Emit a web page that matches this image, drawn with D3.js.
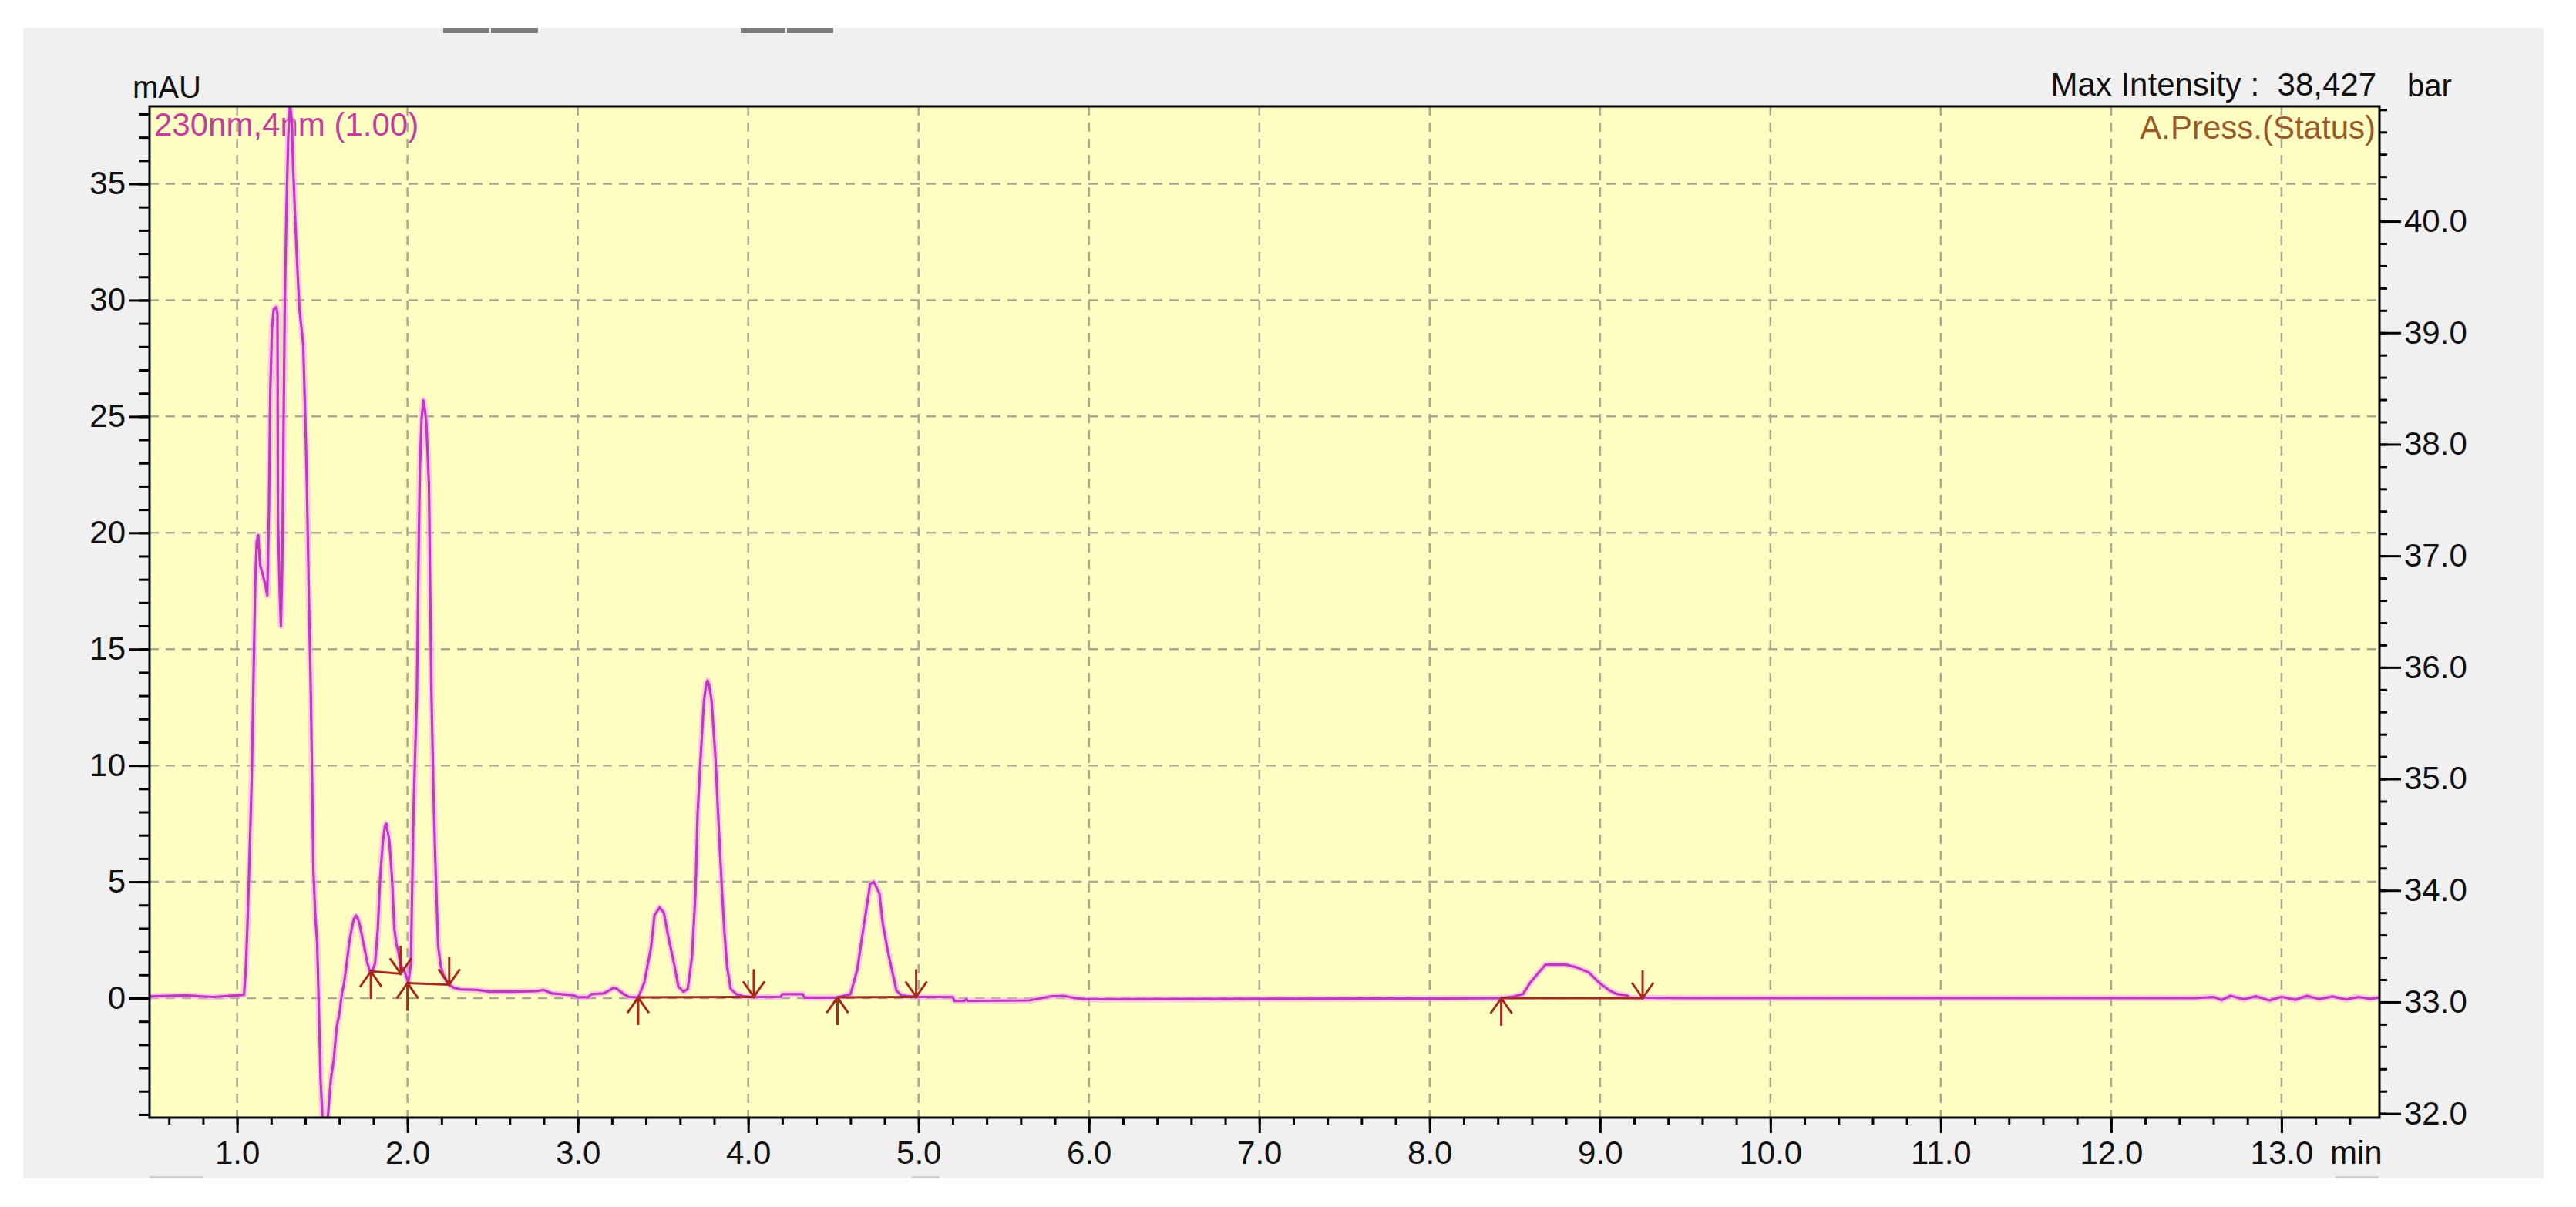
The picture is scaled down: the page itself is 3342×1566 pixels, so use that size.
<!DOCTYPE html>
<html>
<head>
<meta charset="utf-8">
<script src="https://cdn.jsdelivr.net/npm/d3@7"></script>
<style>
  body { margin: 0; background: #ffffff; }
  svg { display: block; }
  text { font-family: "Liberation Sans", Arial, sans-serif; }
</style>
</head>
<body>
<div id="chart"></div>
<script>
// retention time (min) and absorbance (mAU)
const rt = [0.486, 0.60, 0.70, 0.78, 0.86, 0.95, 1.00, 1.04, 1.05, 1.06, 1.071, 1.086, 1.106, 1.115, 1.124, 1.135,
  1.147, 1.165, 1.177, 1.187, 1.195, 1.205, 1.215, 1.23, 1.237, 1.24, 1.25, 1.257, 1.265, 1.272, 1.28, 1.29,
  1.30, 1.31, 1.32, 1.33, 1.343, 1.355, 1.366, 1.388, 1.40, 1.41, 1.422, 1.433, 1.448, 1.46, 1.47, 1.48,
  1.49, 1.50, 1.51, 1.525, 1.535, 1.55, 1.568, 1.585, 1.60, 1.615, 1.627, 1.64, 1.655, 1.67, 1.685, 1.698,
  1.71, 1.72, 1.735, 1.75, 1.765, 1.78, 1.795, 1.81, 1.826, 1.84, 1.855, 1.868, 1.875, 1.885, 1.893, 1.908,
  1.923, 1.935, 1.945, 1.96, 1.98, 1.995, 2.005, 2.02, 2.035, 2.045, 2.055, 2.065, 2.073, 2.083, 2.093, 2.10,
  2.11, 2.126, 2.14, 2.152, 2.163, 2.18, 2.195, 2.21, 2.23, 2.25, 2.27, 2.31, 2.41, 2.48, 2.62, 2.76,
  2.80, 2.85, 2.97, 3.00, 3.06, 3.08, 3.15, 3.19, 3.21, 3.23, 3.27, 3.30, 3.355, 3.39, 3.43, 3.45,
  3.48, 3.505, 3.53, 3.566, 3.59, 3.62, 3.645, 3.67, 3.69, 3.703, 3.718, 3.74, 3.755, 3.762, 3.772, 3.785,
  3.808, 3.83, 3.85, 3.86, 3.875, 3.897, 3.93, 3.97, 4.033, 4.19, 4.20, 4.32, 4.33, 4.52, 4.60, 4.64,
  4.66, 4.69, 4.716, 4.737, 4.77, 4.79, 4.82, 4.85, 4.87, 4.90, 4.99, 5.20, 5.21, 5.27, 5.28, 5.29,
  5.65, 5.72, 5.78, 5.85, 5.92, 6.00, 7.00, 8.00, 8.42, 8.487, 8.547, 8.59, 8.64, 8.68, 8.80, 8.86,
  8.935, 8.995, 9.055, 9.10, 9.16, 9.175, 9.50, 10.5, 11.5, 12.5, 12.6, 12.65, 12.7, 12.78, 12.85, 12.93,
  13.0, 13.08, 13.15, 13.22, 13.3, 13.38, 13.45, 13.52, 13.575]
const mAU = [0.08, 0.10, 0.12, 0.08, 0.05, 0.10, 0.12, 0.14, 1.1, 3.0, 5.6, 9.5, 17.7, 19.6, 19.9, 18.6,
  18.3, 17.8, 17.3, 21.0, 26.2, 28.8, 29.6, 29.7, 29.4, 20.6, 17.5, 16.0, 18.5, 24.0, 30.0, 34.0,
  37.0, 38.43, 37.8, 35.5, 33.1, 31.2, 29.6, 28.1, 25.0, 21.9, 17.0, 13.0, 5.45, 3.4, 2.36, -0.5,
  -3.5, -5.0, -5.8, -5.6, -4.9, -3.5, -2.6, -1.2, -0.7, 0.2, 0.6, 1.3, 2.2, 2.9, 3.4, 3.55,
  3.4, 3.15, 2.6, 2.06, 1.5, 1.15, 1.2, 1.5, 3.0, 5.2, 6.7, 7.4, 7.5, 7.1, 6.8, 5.3,
  3.0, 2.3, 2.06, 1.4, 1.2, 0.9, 0.65, 1.5, 7.9, 10.5, 12.9, 19.0, 22.8, 24.9, 25.7, 25.4,
  24.8, 22.1, 13.4, 9.0, 6.0, 2.25, 1.4, 1.0, 0.7, 0.55, 0.45, 0.38, 0.35, 0.28, 0.28, 0.30,
  0.35, 0.20, 0.13, 0.04, 0.04, 0.17, 0.20, 0.35, 0.45, 0.40, 0.17, 0.05, 0.03, 0.67, 2.2, 3.56,
  3.9, 3.67, 2.67, 1.44, 0.5, 0.28, 0.39, 1.78, 4.44, 7.95, 10.0, 12.76, 13.55, 13.65, 13.4, 12.8,
  10.3, 6.9, 4.1, 2.9, 1.4, 0.4, 0.17, 0.08, 0.05, 0.05, 0.17, 0.17, 0.02, 0.02, 0.17, 1.22,
  2.22, 3.67, 4.9, 5.0, 4.5, 3.2, 2.0, 1.0, 0.33, 0.11, 0.05, 0.05, -0.12, -0.12, -0.05, -0.12,
  -0.10, 0.0, 0.08, 0.10, 0.0, -0.05, -0.03, -0.02, 0.0, 0.06, 0.17, 0.66, 1.1, 1.44, 1.44, 1.33,
  1.1, 0.66, 0.33, 0.17, 0.11, 0.02, 0.0, 0.0, 0.0, 0.0, 0.05, -0.08, 0.10, -0.05, 0.08, -0.10,
  0.06, -0.07, 0.10, -0.04, 0.07, -0.06, 0.05, -0.03, 0.02]

// integration marks: peak start (up arrow) and peak end (down arrow)
const peakStartRT = [1.785, 2.0, 3.354, 4.524, 8.42]
const peakStartLevel = [1.15, 0.65, 0.03, 0.03, 0.0]
const peakEndRT = [1.96, 2.245, 4.033, 4.986, 9.25]
const peakEndLevel = [1.05, 0.58, 0.05, 0.05, 0.0]

// ticks
const timeMajor = [1, 2, 3, 4, 5, 6, 7, 8, 9, 10, 11, 12, 13]
const timeMinor = d3.range(0.6, 13.5, 0.2)
const mAUMajor = [0, 5, 10, 15, 20, 25, 30, 35]
const mAUMinor = d3.range(-5, 39, 1)
const barMajor = [32, 33, 34, 35, 36, 37, 38, 39, 40]
const barMinor = d3.range(32, 41.01, 0.2)

const W = 3342, H = 1566
const plotL = 194, plotR = 3087, plotT = 138, plotB = 1450

let svg = d3.select('#chart').append('svg')
    .attr('width', W)
    .attr('height', H)

let x = d3.scaleLinear().domain([0.486, 13.575]).range([plotL, plotR])
let y = d3.scaleLinear().domain([-5.135, 38.33]).range([plotB, plotT])
let yBar = d3.scaleLinear().domain([31.963, 41.03]).range([plotB, plotT])

// window panel
svg.append('rect')
    .attr('x', 30).attr('y', 36)
    .attr('width', 3270).attr('height', 1493)
    .attr('fill', '#f0f0f0')

// little bars along the top edge
;[[575, 60], [637, 61], [961, 58], [1021, 60]].forEach(b => {
    svg.append('rect')
        .attr('x', b[0]).attr('y', 36)
        .attr('width', b[1]).attr('height', 7)
        .attr('fill', '#7c7c7c')
})
;[[194, 70], [1183, 36], [3030, 56]].forEach(b => {
    svg.append('rect')
        .attr('x', b[0]).attr('y', 1526)
        .attr('width', b[1]).attr('height', 3)
        .attr('fill', '#cfcfcf')
})

// plot background
svg.append('rect')
    .attr('x', plotL).attr('y', plotT)
    .attr('width', plotR - plotL).attr('height', plotB - plotT)
    .attr('fill', '#fffec2')

// grid
let grid = svg.append('g')
    .attr('stroke', '#a8a893')
    .attr('stroke-width', 2.5)
    .attr('stroke-dasharray', '12,9')
grid.selectAll('.vgrid').data(timeMajor).enter().append('line')
    .attr('x1', d => x(d)).attr('x2', d => x(d))
    .attr('y1', plotT).attr('y2', plotB)
grid.selectAll('.hgrid').data(mAUMajor).enter().append('line')
    .attr('x1', plotL).attr('x2', plotR)
    .attr('y1', d => y(d)).attr('y2', d => y(d))

// channel labels
svg.append('text')
    .attr('x', 200).attr('y', 176)
    .text('230nm,4nm (1.00)')
    .style('font-size', '42px')
    .attr('fill', '#c0409c')

svg.append('text')
    .attr('x', 3082).attr('y', 180)
    .text('A.Press.(Status)')
    .style('font-size', '42px')
    .style('text-anchor', 'end')
    .attr('fill', '#9a5a2a')

// clip
svg.append('clipPath').attr('id', 'plotClip')
    .append('rect')
    .attr('x', plotL).attr('y', plotT)
    .attr('width', plotR - plotL).attr('height', plotB - plotT)

let trace = rt.map((t, i) => [t, mAU[i]])
let line = d3.line().x(d => x(d[0])).y(d => y(d[1]))

svg.append('path')
    .datum(trace)
    .attr('clip-path', 'url(#plotClip)')
    .attr('d', line)
    .attr('fill', 'none')
    .attr('stroke', '#f5a3f2')
    .attr('stroke-width', 8)
    .attr('stroke-linejoin', 'round')
    .attr('opacity', 0.55)

svg.append('path')
    .datum(trace)
    .attr('clip-path', 'url(#plotClip)')
    .attr('d', line)
    .attr('fill', 'none')
    .attr('stroke', '#c238c4')
    .attr('stroke-width', 3.2)
    .attr('stroke-linejoin', 'round')

// integration baselines and arrows
let marks = svg.append('g')
    .attr('stroke', '#a32a1c')
    .attr('stroke-width', 3)
    .attr('fill', 'none')

peakStartRT.forEach((t, i) => {
    marks.append('line')
        .attr('x1', x(t)).attr('y1', y(peakStartLevel[i]))
        .attr('x2', x(peakEndRT[i])).attr('y2', y(peakEndLevel[i]))
})

peakStartRT.forEach((t, i) => {
    let px = x(t), py = y(peakStartLevel[i])
    marks.append('path')
        .attr('d', `M${px},${py} L${px},${py + 36} M${px - 14},${py + 20} Q${px - 4},${py + 6} ${px},${py} Q${px + 4},${py + 6} ${px + 14},${py + 20}`)
})

peakEndRT.forEach((t, i) => {
    let px = x(t), py = y(peakEndLevel[i])
    marks.append('path')
        .attr('d', `M${px},${py} L${px},${py - 36} M${px - 14},${py - 20} Q${px - 4},${py - 6} ${px},${py} Q${px + 4},${py - 6} ${px + 14},${py - 20}`)
})

// frame
svg.append('rect')
    .attr('x', plotL).attr('y', plotT)
    .attr('width', plotR - plotL).attr('height', plotB - plotT)
    .attr('fill', 'none')
    .attr('stroke', '#000')
    .attr('stroke-width', 3)

// axes
function styleAxis (g) {
    g.select('.domain').remove()
    g.selectAll('line').attr('stroke', '#000').attr('stroke-width', 3)
    g.selectAll('text')
        .style('font-family', '"Liberation Sans", Arial, sans-serif')
        .style('font-size', '42px')
        .attr('fill', '#111')
}

svg.append('g')
    .attr('transform', `translate(0, ${plotB})`)
    .call(d3.axisBottom(x).tickValues(timeMinor).tickSize(9).tickFormat(''))
    .call(styleAxis)
svg.append('g')
    .attr('transform', `translate(0, ${plotB})`)
    .call(d3.axisBottom(x).tickValues(timeMajor).tickSize(20).tickPadding(10).tickFormat(d3.format('.1f')))
    .call(styleAxis)

svg.append('g')
    .attr('transform', `translate(${plotL}, 0)`)
    .call(d3.axisLeft(y).tickValues(mAUMinor).tickSize(14).tickFormat(''))
    .call(styleAxis)
svg.append('g')
    .attr('transform', `translate(${plotL}, 0)`)
    .call(d3.axisLeft(y).tickValues(mAUMajor).tickSize(26).tickPadding(5).tickFormat(d3.format('d')))
    .call(styleAxis)

svg.append('g')
    .attr('transform', `translate(${plotR}, 0)`)
    .call(d3.axisRight(yBar).tickValues(barMinor).tickSize(10).tickFormat(''))
    .call(styleAxis)
svg.append('g')
    .attr('transform', `translate(${plotR}, 0)`)
    .call(d3.axisRight(yBar).tickValues(barMajor).tickSize(28).tickPadding(4).tickFormat(d3.format('.1f')))
    .call(styleAxis)

// axis titles
svg.append('text')
    .attr('x', 3023).attr('y', 1510)
    .text('min')
    .style('font-size', '42px')
    .attr('fill', '#111')

svg.append('text')
    .attr('x', 172).attr('y', 127)
    .text('mAU')
    .style('font-size', '40px')
    .attr('fill', '#111')

svg.append('text')
    .attr('x', 3123).attr('y', 125)
    .text('bar')
    .style('font-size', '40px')
    .attr('fill', '#111')

svg.append('text')
    .attr('x', 3083).attr('y', 124)
    .text('Max Intensity :  38,427')
    .style('font-size', '42px')
    .style('text-anchor', 'end')
    .style('white-space', 'pre')
    .attr('fill', '#111')
</script>
</body>
</html>
